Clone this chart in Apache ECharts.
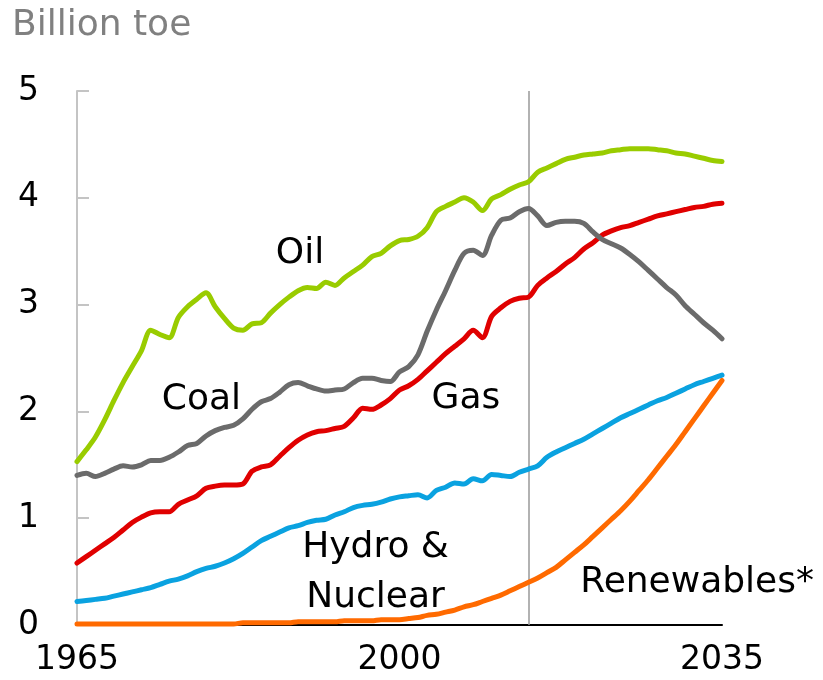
<!DOCTYPE html>
<html>
<head>
<meta charset="utf-8">
<script src="https://cdn.jsdelivr.net/npm/echarts@6/dist/echarts.min.js"></script>
<style>
  html, body { margin: 0; padding: 0; background: #fff; }
  #main { width: 823px; height: 680px; }
</style>
</head>
<body>
<div id="main"></div>
<script>
const FONT = "DejaVu Sans";

// years 1965..2035
const years = [];
for (let y = 1965; y <= 2035; y++) years.push(y);

const oil = [
  1.53, 1.64, 1.76, 1.92, 2.10, 2.27, 2.42, 2.57, 2.76, 2.72,
  2.69, 2.88, 2.98, 3.05, 3.11, 2.98, 2.87, 2.78, 2.76, 2.82,
  2.83, 2.92, 3.00, 3.07, 3.13, 3.16, 3.15, 3.21, 3.18, 3.25,
  3.31, 3.37, 3.45, 3.48, 3.55, 3.60, 3.61, 3.64, 3.72, 3.87,
  3.92, 3.96, 4.00, 3.96, 3.88, 3.99, 4.03, 4.08, 4.12, 4.15,
  4.24, 4.28, 4.32, 4.36, 4.38, 4.40, 4.41, 4.42, 4.44, 4.45,
  4.46, 4.46, 4.46, 4.45, 4.44, 4.42, 4.41, 4.39, 4.37, 4.35,
  4.34
];
const coal = [
  1.40, 1.42, 1.39, 1.42, 1.46, 1.49, 1.48, 1.50, 1.54, 1.54,
  1.57, 1.62, 1.68, 1.70, 1.77, 1.82, 1.85, 1.87, 1.93, 2.02,
  2.09, 2.12, 2.18, 2.25, 2.27, 2.24, 2.21, 2.19, 2.20, 2.21,
  2.27, 2.31, 2.31, 2.29, 2.28, 2.37, 2.42, 2.53, 2.75, 2.95,
  3.13, 3.32, 3.48, 3.51, 3.46, 3.65, 3.79, 3.81, 3.87, 3.90,
  3.83, 3.74, 3.77, 3.78, 3.78, 3.76, 3.68, 3.61, 3.57, 3.53,
  3.47, 3.40, 3.32, 3.24, 3.16, 3.09, 2.99, 2.91, 2.83, 2.76,
  2.68
];
const gas = [
  0.58, 0.64, 0.70, 0.76, 0.82, 0.89, 0.96, 1.01, 1.05, 1.06,
  1.06, 1.13, 1.17, 1.21, 1.28, 1.30, 1.31, 1.31, 1.32, 1.44,
  1.48, 1.50, 1.58, 1.66, 1.73, 1.78, 1.81, 1.82, 1.84, 1.86,
  1.94, 2.03, 2.02, 2.06, 2.12, 2.20, 2.24, 2.30, 2.38, 2.46,
  2.54, 2.61, 2.68, 2.76, 2.69, 2.89, 2.97, 3.03, 3.06, 3.07,
  3.18, 3.25, 3.31, 3.38, 3.44, 3.52, 3.58, 3.65, 3.69, 3.72,
  3.74, 3.77, 3.80, 3.83, 3.85, 3.87, 3.89, 3.91, 3.92, 3.94,
  3.95
];
const hydroNuclear = [
  0.22, 0.23, 0.24, 0.25, 0.27, 0.29, 0.31, 0.33, 0.35, 0.38,
  0.41, 0.43, 0.46, 0.50, 0.53, 0.55, 0.58, 0.62, 0.67, 0.73,
  0.79, 0.83, 0.87, 0.91, 0.93, 0.96, 0.98, 0.99, 1.03, 1.06,
  1.10, 1.12, 1.13, 1.15, 1.18, 1.20, 1.21, 1.22, 1.19, 1.26,
  1.29, 1.33, 1.32, 1.37, 1.35, 1.41, 1.40, 1.39, 1.43, 1.46,
  1.49, 1.57, 1.62, 1.66, 1.70, 1.74, 1.79, 1.84, 1.89, 1.94,
  1.98, 2.02, 2.06, 2.10, 2.13, 2.17, 2.21, 2.25, 2.28, 2.31,
  2.34
];
const renewables = [
  0.01, 0.01, 0.01, 0.01, 0.01, 0.01, 0.01, 0.01, 0.01, 0.01,
  0.01, 0.01, 0.01, 0.01, 0.01, 0.01, 0.01, 0.01, 0.02, 0.02,
  0.02, 0.02, 0.02, 0.02, 0.03, 0.03, 0.03, 0.03, 0.03, 0.04,
  0.04, 0.04, 0.04, 0.05, 0.05, 0.05, 0.06, 0.07, 0.09, 0.10,
  0.12, 0.14, 0.17, 0.19, 0.22, 0.25, 0.28, 0.32, 0.36, 0.40,
  0.44, 0.49, 0.54, 0.61, 0.68, 0.75, 0.83, 0.91, 0.99, 1.07,
  1.16, 1.26, 1.36, 1.47, 1.58, 1.69, 1.81, 1.93, 2.05, 2.17,
  2.29
];

const xTicks = [1965, 2000, 2035];
const baseYear = 2014;

// label text, anchor year, anchor value (centre of the text)
const labels = [
  ["Oil", 1989.2, 3.48],
  ["Coal", 1978.5, 2.11],
  ["Gas", 2007.2, 2.12],
  ["Hydro &\nNuclear", 1997.4, 0.49],
  ["Renewables*", 2032.3, 0.40]
];

const zip = (arr) => arr.map((v, i) => [years[i], v]);

const lineSeries = (name, data, color) => ({
  name: name,
  type: "line",
  data: zip(data),
  showSymbol: false,
  symbol: "none",
  smooth: 0.3,
  lineStyle: { color: color, width: 5, cap: "round", join: "round" },
  z: 3
});

const chart = echarts.init(document.getElementById("main"), null, { renderer: "canvas" });

const option = {
  backgroundColor: "#ffffff",
  animation: false,
  grid: { left: 77, right: 101, top: 91, bottom: 55 },
  xAxis: {
    type: "value",
    min: 1965,
    max: 2035,
    axisLine: { show: true, onZero: false, lineStyle: { color: "#000", width: 2 } },
    axisTick: { show: false },
    splitLine: { show: false },
    axisLabel: {
      customValues: xTicks,
      formatter: (v) => String(v),
      color: "#000",
      fontFamily: FONT,
      fontSize: 33,
      margin: 19
    }
  },
  yAxis: {
    type: "value",
    min: 0,
    max: 5,
    interval: 1,
    axisLine: { show: true, lineStyle: { color: "#c4c4c4", width: 2 } },
    axisTick: { show: true, inside: true, length: 12, lineStyle: { color: "#c4c4c4", width: 2 } },
    splitLine: { show: false },
    axisLabel: {
      color: "#000",
      fontFamily: FONT,
      fontSize: 33,
      margin: 38
    }
  },
  series: [
    Object.assign(lineSeries("Renewables*", renewables, "#ff6a00"), {
      markLine: {
        silent: true,
        symbol: "none",
        label: { show: false },
        lineStyle: { color: "#999999", width: 1.5, type: "solid" },
        data: [{ xAxis: baseYear }],
        z: 1
      }
    }),
    lineSeries("Hydro & Nuclear", hydroNuclear, "#0aa2e0"),
    lineSeries("Gas", gas, "#e00000"),
    lineSeries("Coal", coal, "#6b6b6b"),
    lineSeries("Oil", oil, "#99cc00")
  ]
};

chart.setOption(option);

const graphics = [{
  type: "text",
  left: 12,
  top: 8,
  style: { text: "Billion toe", fill: "#808080", font: "36px " + FONT }
}];
labels.forEach(([text, yr, val]) => {
  const p = chart.convertToPixel({ gridIndex: 0 }, [yr, val]);
  graphics.push({
    type: "text",
    x: p[0],
    y: p[1],
    style: {
      text: text,
      fill: "#000",
      font: "36px " + FONT,
      align: "center",
      verticalAlign: "middle",
      lineHeight: 50
    },
    z: 10
  });
});
chart.setOption({ graphic: graphics });

window.addEventListener("resize", () => chart.resize());
</script>
</body>
</html>
